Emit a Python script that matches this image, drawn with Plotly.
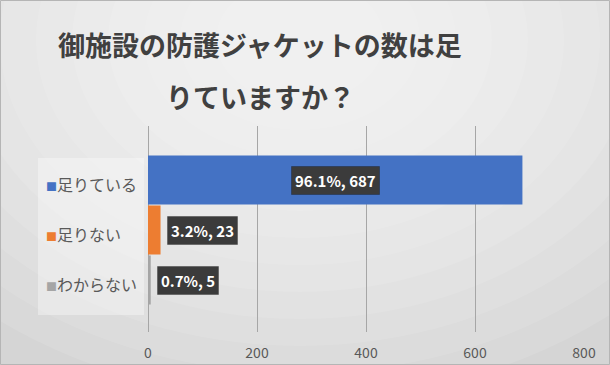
import plotly.graph_objects as go

# ---- data ----
categories = ["足りている", "足りない", "わからない"]
counts = [687, 23, 5]
percents = [96.1, 3.2, 0.7]
positions = [2, 1, 0]
colors = ["#4472C4", "#ED7D31", "#A5A5A5"]
title_line1 = "御施設の防護ジャケットの数は足"
title_line2 = "りていますか？"
x_ticks = [0, 200, 400, 600, 800]

FONT = "Noto Sans CJK JP, Noto Sans, sans-serif"

W, H = 610, 365
L, R, T, B = 148, 26, 126, 33
PW, PH = W - L - R, H - T - B


def px2paper(px, py):
    return (px - L) / PW, (H - B - py) / PH


fig = go.Figure()
for cat, cnt, pos, col in zip(categories, counts, positions, colors):
    fig.add_trace(go.Bar(
        x=[cnt], y=[pos], orientation="h", name=cat, width=0.98,
        marker=dict(color=col, line=dict(width=0)),
        showlegend=False, hoverinfo="skip",
    ))

annos = []
# data labels
for i, (cnt, pct, pos) in enumerate(zip(counts, percents, positions)):
    txt = f"<b>{pct}%, {cnt}</b>"
    if i == 0:
        kw = dict(x=cnt / 2, xanchor="center", xshift=0)
    else:
        kw = dict(x=cnt, xanchor="left", xshift=6)
    annos.append(dict(text=txt, y=pos, yref="y", xref="x", showarrow=False,
                      font=dict(family=FONT, size=15, color="white"),
                      bgcolor="#3b3b3b", bordercolor="rgba(0,0,0,0.25)", borderwidth=1,
                      borderpad=3, **kw))

# legend (as text entries with coloured squares)
leg_x, _ = px2paper(44, 0)
for cat, pos, col in zip(categories, positions, colors):
    annos.append(dict(
        text=f"<span style='color:{col};font-size:11px'>■</span>{cat}",
        x=leg_x, y=pos, xref="paper", yref="y", xanchor="left", yanchor="middle",
        yshift=-4, showarrow=False,
        font=dict(family=FONT, size=16, color="#595959")))

# title lines
for line, py in [(title_line1, 45), (title_line2, 96)]:
    tx, ty = px2paper(260, py)
    annos.append(dict(text=f"<b>{line}</b>", x=tx, y=ty, xref="paper", yref="paper",
                      xanchor="center", yanchor="middle", showarrow=False,
                      font=dict(family=FONT, size=27, color="#404040")))

# background gradient shapes
shapes = []
cx, cy = 300, 40
n = 12
for k in range(n):
    rx = 480 - k * 36
    ry = rx * 0.75
    x0, y0 = px2paper(cx - rx, cy + ry)
    x1, y1 = px2paper(cx + rx, cy - ry)
    shapes.append(dict(type="circle", xref="paper", yref="paper", x0=x0, y0=y0, x1=x1, y1=y1,
                       fillcolor="rgba(255,255,255,0.10)", line=dict(width=0), layer="below"))
# legend box
lx0, ly0 = px2paper(38, 315)
lx1, ly1 = px2paper(144, 158)
shapes.append(dict(type="rect", xref="paper", yref="paper", x0=lx0, y0=ly0, x1=lx1, y1=ly1,
                   fillcolor="rgba(255,255,255,0.35)", line=dict(width=0), layer="below"))
# outer frame
fx0, fy0 = px2paper(0.5, H - 0.5)
fx1, fy1 = px2paper(W - 0.5, 0.5)
shapes.append(dict(type="rect", xref="paper", yref="paper", x0=fx0, y0=fy0, x1=fx1, y1=fy1,
                   fillcolor="rgba(0,0,0,0)", line=dict(width=1, color="#b5b5b5"), layer="above"))

fig.update_layout(
    width=W, height=H,
    margin=dict(l=L, r=R, t=T, b=B, autoexpand=False),
    paper_bgcolor="#d5d5d5",
    plot_bgcolor="rgba(0,0,0,0)",
    barmode="overlay",
    font=dict(family=FONT, color="#595959"),
    showlegend=False,
    xaxis=dict(range=[0, 800], tickvals=x_ticks, ticktext=[str(v) for v in x_ticks],
               showgrid=True, gridcolor="#a6a6a6", gridwidth=1,
               zeroline=True, zerolinecolor="#a6a6a6", zerolinewidth=1,
               showline=False, ticks="outside", ticklen=8, tickcolor="rgba(0,0,0,0)",
               tickfont=dict(family=FONT, size=14, color="#595959"), fixedrange=True),
    yaxis=dict(range=[-1.04, 3.08], showticklabels=False, showgrid=False,
               zeroline=False, showline=False, fixedrange=True),
    annotations=annos,
    shapes=shapes,
)

fig.write_html("out.html", config={"displayModeBar": False},
               post_script="document.body.style.margin='0';")
